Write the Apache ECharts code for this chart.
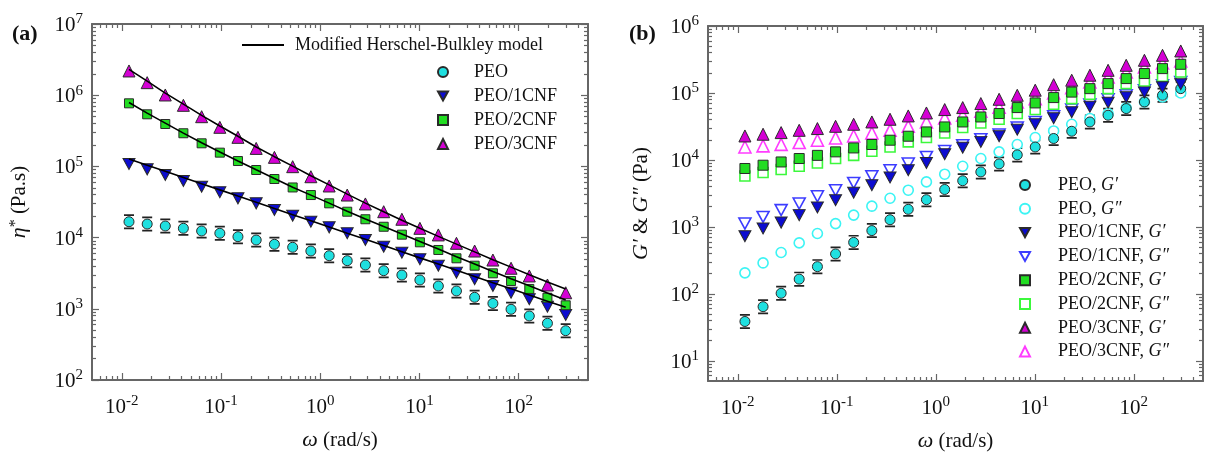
<!DOCTYPE html>
<html>
<head>
<meta charset="utf-8">
<script src="https://cdn.jsdelivr.net/npm/echarts@6/dist/echarts.min.js"></script>
<style>
html,body{margin:0;padding:0;background:#fff;}
#chart{width:1205px;height:464px;}
</style>
</head>
<body>
<div id="chart"></div>
<script>
// ---------------- DATA ----------------
const omega = [0.0118, 0.018, 0.0274, 0.0417, 0.0637, 0.0972, 0.148, 0.226, 0.345, 0.527, 0.804, 1.23, 1.87, 2.85, 4.36, 6.65, 10.1, 15.5, 23.6, 36.0, 55.0, 83.8, 128, 195, 298];

// panel (a): complex viscosity eta* (Pa.s)
const etaPEO  = [16700, 15500, 14550, 13500, 12380, 11500, 10300, 9250, 8050, 7310, 6480, 5570, 4740, 4120, 3430, 2980, 2540, 2090, 1780, 1450, 1190, 984, 793, 626, 493];
const eta1CNF = [108000, 91000, 75700, 62400, 51900, 43300, 35600, 30300, 24400, 20300, 16700, 13950, 11500, 9250, 7450, 6140, 4960, 4030, 3210, 2600, 2090, 1680, 1360, 1070, 818];
const eta2CNF = [769000, 539000, 394000, 292000, 211000, 156000, 119000, 89000, 66500, 50600, 39600, 30300, 23100, 18100, 14200, 11000, 8590, 6700, 5120, 4030, 3150, 2460, 1900, 1430, 1120];
const eta3CNF = [2190000, 1500000, 1007000, 721000, 499000, 354000, 256000, 179000, 134000, 99100, 71600, 53100, 39600, 29700, 23100, 18100, 13500, 10900, 8320, 6480, 4840, 3710, 2890, 2160, 1680];
// Modified Herschel-Bulkley model fits
const fit1CNF = [127000, 104000, 85200, 69800, 57100, 46800, 38300, 31400, 25700, 21000, 17200, 14100, 11500, 9460, 7740, 6340, 5190, 4250, 3480, 2850, 2330, 1910, 1560, 1280, 1050];
const fit2CNF = [790000, 560000, 405000, 293000, 215000, 159000, 119000, 89500, 67500, 51000, 39500, 30500, 23500, 18300, 14300, 11200, 8800, 6900, 5400, 4250, 3350, 2650, 2100, 1670, 1330];
const fit3CNF = [2300000, 1580000, 1070000, 750000, 520000, 370000, 265000, 187000, 137000, 101000, 74000, 55000, 40800, 30500, 23000, 17500, 13500, 10400, 8100, 6300, 4900, 3850, 3000, 2380, 1900];

// panel (b): storage G' and loss G'' moduli (Pa)
const gpPEO    = [38.7, 64.4, 102, 166, 255, 395, 587, 881, 1280, 1830, 2550, 3620, 4890, 6620, 8720, 11900, 15600, 20900, 26800, 36900, 46500, 58500, 73400, 92400, 116000];
const gppPEO   = [206, 290, 415, 577, 797, 1120, 1500, 2040, 2680, 3530, 4700, 6120, 8050, 10500, 13200, 17000, 21600, 27100, 34100, 41500, 49300, 59700, 73400, 87100, 100000];
const gp1CNF   = [726, 946, 1160, 1500, 1950, 2500, 3240, 4190, 5460, 7010, 9020, 12200, 15200, 18600, 22600, 28200, 34100, 41900, 51500, 62300, 71400, 86300, 102000, 122000, 135000];
const gpp1CNF  = [1120, 1410, 1780, 2230, 2870, 3530, 4540, 5710, 7010, 8830, 11100, 13600, 16600, 20400, 23900, 30500, 36900, 44900, 56500, 67100, 80500, 92400, 110000, 130000, 146000];
const gp2CNF   = [7450, 8340, 9330, 10500, 11700, 13200, 15100, 17000, 19700, 22600, 26200, 31100, 36900, 43800, 49300, 60500, 71000, 85300, 103000, 116000, 138000, 164000, 195000, 231000, 268000];
const gpp2CNF  = [5770, 6480, 7190, 8050, 9020, 10500, 11700, 13500, 15600, 18600, 21600, 25300, 30500, 35600, 40500, 49300, 56500, 67800, 82400, 95700, 116000, 138000, 151000, 177000, 206000];
const gp3CNF   = [22800, 24200, 25600, 27700, 29400, 31800, 34100, 36900, 40500, 45400, 50300, 56500, 60500, 69500, 80500, 92400, 110000, 133000, 155000, 184000, 218000, 259000, 308000, 365000, 424000];
const gpp3CNF  = [15600, 16200, 17100, 18200, 19700, 21300, 22800, 25300, 27700, 31800, 36900, 42400, 46500, 53300, 61200, 73400, 82400, 100000, 120000, 146000, 173000, 206000, 244000, 280000, 300000];

// tick values
const xMajor = [0.01, 0.1, 1, 10, 100];
const xMinor = [0.006, 0.007, 0.008, 0.009, 0.02, 0.03, 0.04, 0.05, 0.06, 0.07, 0.08, 0.09, 0.2, 0.3, 0.4, 0.5, 0.6, 0.7, 0.8, 0.9, 2, 3, 4, 5, 6, 7, 8, 9, 20, 30, 40, 50, 60, 70, 80, 90, 200, 300, 400];
const yMajorA = [1e2, 1e3, 1e4, 1e5, 1e6, 1e7];
const yMajorB = [1e1, 1e2, 1e3, 1e4, 1e5, 1e6];
const mult = [2, 3, 4, 5, 6, 7, 8, 9];
const yMinorA = [].concat(...[1e2, 1e3, 1e4, 1e5, 1e6].map(d => mult.map(m => m * d)));
const yMinorB = [6, 7, 8, 9].concat(...[1e1, 1e2, 1e3, 1e4, 1e5].map(d => mult.map(m => m * d)));

const FIT_NAME = 'Modified Herschel-Bulkley model';
const legendA = ['PEO', 'PEO/1CNF', 'PEO/2CNF', 'PEO/3CNF'];
const legendB = ['PEO, G′', 'PEO, G″', 'PEO/1CNF, G′', 'PEO/1CNF, G″', 'PEO/2CNF, G′', 'PEO/2CNF, G″', 'PEO/3CNF, G′', 'PEO/3CNF, G″'];

// ---------------- STYLE ----------------
const SERIF = 'Liberation Serif';
const AX = '#666';
const C = {
  cyan: '#1fe0e0', cyanO: '#3cf4f4',
  blue: '#0c0cd0', blueO: '#3c3cff',
  green: '#22dd22', greenO: '#3cf83c',
  mag: '#d400d4', magO: '#ff3cff'
};
const DOWN = 'path://M0,0L10,0L5,9Z';
const pair = arr => omega.map((w, i) => [w, arr[i]]);

const supRich = {
  b: {fontFamily: SERIF, fontSize: 21, color: '#111', lineHeight: 24, verticalAlign: 'bottom'},
  s: {fontFamily: SERIF, fontSize: 15, color: '#111', lineHeight: 24, verticalAlign: 'top'}
};
const powFmt = v => '{b|10}{s|' + Math.round(Math.log10(v)) + '}';

function axisSet(dim, grid, min, max, majors, minors, labelMargin, name, nameGap) {
  const posA = dim === 'x' ? 'bottom' : 'left';
  const posB = dim === 'x' ? 'top' : 'right';
  const base = {type: 'log', logBase: 10, gridIndex: grid, min: min, max: max,
    splitLine: {show: false}, minorTick: {show: false}, minorSplitLine: {show: false}};
  const line = {show: true, onZero: false, lineStyle: {color: AX, width: 2}};
  const mk = (pos, vals, len, withLabel, showLine) => Object.assign({}, base, {
    position: pos,
    axisLine: showLine ? line : {show: false},
    axisTick: {show: true, inside: true, length: len, customValues: vals, lineStyle: {color: AX, width: 1.2}},
    axisLabel: withLabel ? {show: true, customValues: majors, formatter: powFmt, rich: supRich, margin: labelMargin, hideOverlap: false} : {show: false},
    name: withLabel ? name : '',
    nameLocation: 'middle',
    nameGap: nameGap,
    nameTextStyle: {fontFamily: SERIF, fontSize: 21, color: '#111', rich: {
      i: {fontFamily: SERIF, fontStyle: 'italic', fontSize: 22, color: '#111'},
      n: {fontFamily: SERIF, fontSize: 21, color: '#111'},
      s: {fontFamily: SERIF, fontSize: 16, color: '#111', verticalAlign: 'top', lineHeight: 22}
    }}
  });
  return [mk(posA, majors, 7, true, true), mk(posA, minors, 4, false, false),
          mk(posB, majors, 7, false, true), mk(posB, minors, 4, false, false)];
}

const xAxes = [].concat(
  axisSet('x', 0, 0.005, 500, xMajor, xMinor, 14, '{i|ω}{n| (rad/s)}', 49),
  axisSet('x', 1, 0.005, 500, xMajor, xMinor, 14, '{i|ω}{n| (rad/s)}', 49)
);
const yAxes = [].concat(
  axisSet('y', 0, 1e2, 1e7, yMajorA, yMinorA, 9, '{i|η}{s|*}{n| (Pa.s)}', 62),
  axisSet('y', 1, 5, 1e6, yMajorB, yMinorB, 9, '{i|G′}{n| & }{i|G″}{n| (Pa)}', 56)
);

function filled(name, data, color, symbol, size, xi, yi) {
  return {type: 'scatter', name: name, xAxisIndex: xi, yAxisIndex: yi, data: pair(data),
    symbol: symbol, symbolSize: size, z: 4,
    itemStyle: {color: color, borderColor: '#2a2a2a', borderWidth: 1, opacity: 1},
    emphasis: {disabled: true}};
}
function open(name, data, color, symbol, size, xi, yi) {
  return {type: 'scatter', name: name, xAxisIndex: xi, yAxisIndex: yi, data: pair(data),
    symbol: symbol, symbolSize: size, z: 3,
    itemStyle: {color: '#fff', borderColor: color, borderWidth: 1.6, opacity: 1},
    emphasis: {disabled: true}};
}
function caps(data, xi, yi) {
  return {type: 'scatter', name: '_caps', xAxisIndex: xi, yAxisIndex: yi, data: pair(data),
    symbol: 'path://M0,0L10,0L10,1.6L0,1.6Z M0,12.4L10,12.4L10,14L0,14Z', symbolSize: [10, 15], z: 2,
    itemStyle: {color: '#222', opacity: 1}, emphasis: {disabled: true}, silent: true};
}
function fit(data) {
  return {type: 'line', name: FIT_NAME, xAxisIndex: 0, yAxisIndex: 0, data: pair(data),
    showSymbol: false, symbol: 'none', smooth: false, z: 5,
    lineStyle: {color: '#000', width: 1.6}, itemStyle: {color: '#000'}, emphasis: {disabled: true}};
}

const series = [
  // panel (a)
  caps(etaPEO, 0, 0),
  filled('PEO', etaPEO, C.cyan, 'circle', 10, 0, 0),
  filled('PEO/1CNF', eta1CNF, C.blue, DOWN, [12, 11], 0, 0),
  filled('PEO/2CNF', eta2CNF, C.green, 'rect', 9, 0, 0),
  filled('PEO/3CNF', eta3CNF, C.mag, 'triangle', 12, 0, 0),
  fit(fit1CNF), fit(fit2CNF), fit(fit3CNF),
  // panel (b)
  caps(gpPEO, 4, 4),
  open('PEO, G″', gppPEO, C.cyanO, 'circle', 10, 4, 4),
  open('PEO/1CNF, G″', gpp1CNF, C.blueO, DOWN, [12, 11], 4, 4),
  open('PEO/2CNF, G″', gpp2CNF, C.greenO, 'rect', 10, 4, 4),
  open('PEO/3CNF, G″', gpp3CNF, C.magO, 'triangle', 12, 4, 4),
  filled('PEO, G′', gpPEO, C.cyan, 'circle', 10, 4, 4),
  filled('PEO/1CNF, G′', gp1CNF, C.blue, DOWN, [12, 11], 4, 4),
  filled('PEO/2CNF, G′', gp2CNF, C.green, 'rect', 10, 4, 4),
  filled('PEO/3CNF, G′', gp3CNF, C.mag, 'triangle', 12, 4, 4)
];

const legText = {fontFamily: SERIF, fontSize: 18, color: '#111', lineHeight: 20};
const option = {
  backgroundColor: '#fff',
  animation: false,
  title: [
    {text: '(a)', left: 7, top: 18, textStyle: {fontFamily: SERIF, fontWeight: 'bold', fontSize: 22, color: '#111'}},
    {text: '(b)', left: 624, top: 18, textStyle: {fontFamily: SERIF, fontWeight: 'bold', fontSize: 22, color: '#111'}}
  ],
  grid: [
    {left: 92, top: 24, right: 617, bottom: 84, outerBoundsMode: 'none', containLabel: false},
    {left: 708, top: 26, right: 2, bottom: 83, outerBoundsMode: 'none', containLabel: false}
  ],
  xAxis: xAxes,
  yAxis: yAxes,
  legend: [
    {data: [{name: FIT_NAME, icon: 'rect'}], left: 242, top: 35, orient: 'vertical', padding: 0,
     itemWidth: 42, itemHeight: 2, selectedMode: false,
     itemStyle: {color: '#000', borderWidth: 0},
     textStyle: Object.assign({padding: [0, 0, 0, 6]}, legText)},
    {data: legendA, left: 437, top: 62, orient: 'vertical', padding: 0, itemWidth: 10, itemHeight: 10, itemGap: 4,
     selectedMode: false, textStyle: Object.assign({padding: [0, 0, 0, 21]}, legText)},
    {data: legendB, left: 1019, top: 175, orient: 'vertical', padding: 0, itemWidth: 10, itemHeight: 10, itemGap: 3.8,
     selectedMode: false,
     formatter: name => { const p = name.split(', '); return '{n|' + p[0] + ', }{i|' + p[1] + '}'; },
     textStyle: Object.assign({padding: [0, 0, 0, 23], rich: {
       n: {fontFamily: SERIF, fontSize: 18, color: '#111', lineHeight: 20},
       i: {fontFamily: SERIF, fontSize: 18, fontStyle: 'italic', color: '#111', lineHeight: 20}
     }}, legText)}
  ],
  series: series
};

const chart = echarts.init(document.getElementById('chart'), null, {renderer: 'canvas'});
chart.setOption(option);
</script>
</body>
</html>
